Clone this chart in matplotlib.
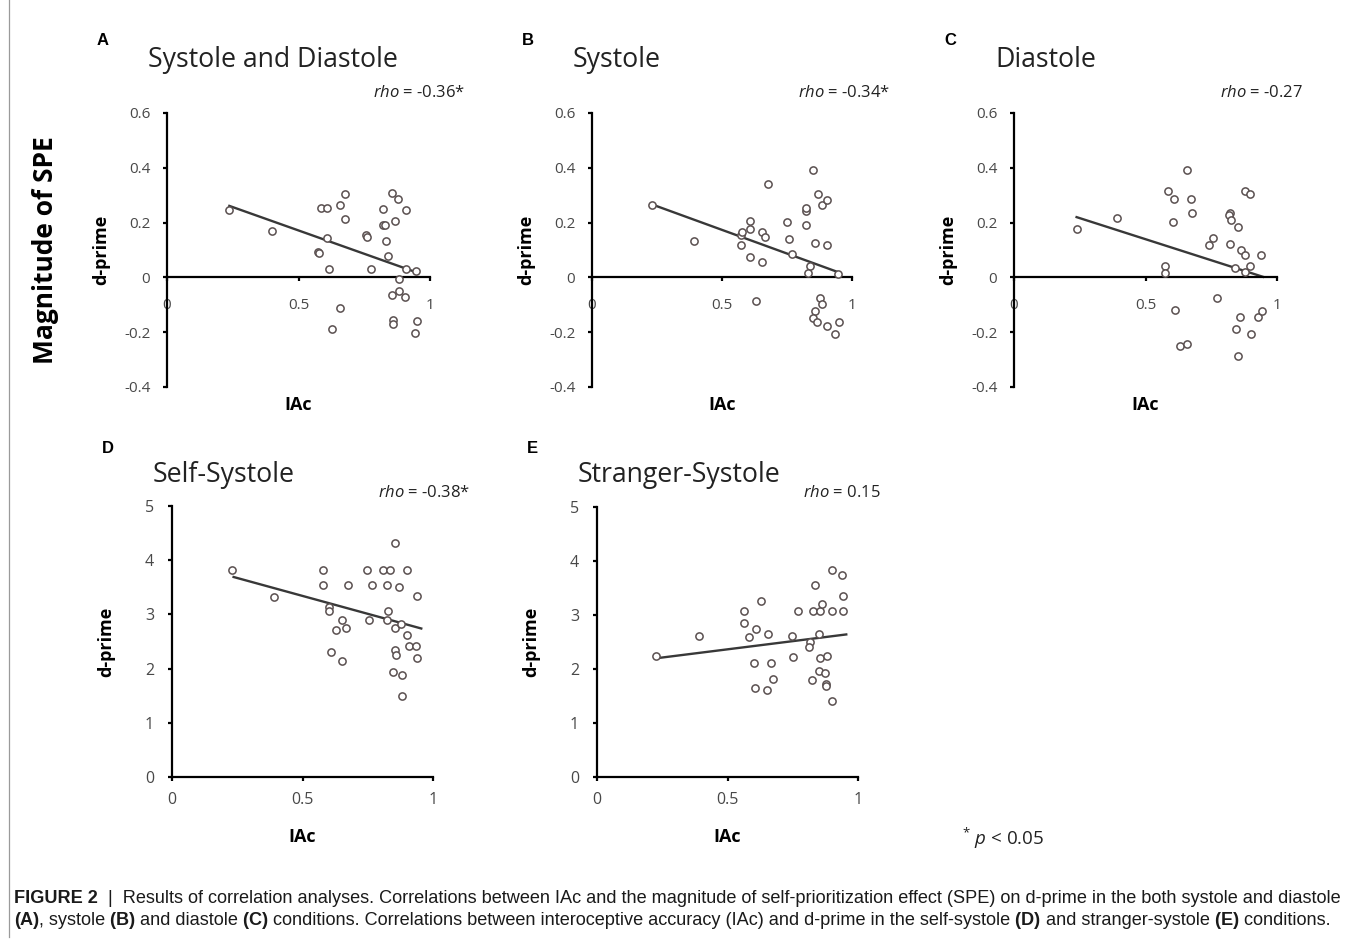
import matplotlib
matplotlib.use('Agg')
import matplotlib.pyplot as plt

W, H = 1355, 941
plt.rcParams['font.family'] = ['Open Sans', 'DejaVu Sans']
plt.rcParams['mathtext.fontset'] = 'custom'
plt.rcParams['mathtext.it'] = 'Open Sans:italic'
plt.rcParams['mathtext.rm'] = 'Open Sans'

# ---- data ----
titles = ['Systole and Diastole', 'Systole', 'Diastole', 'Self-Systole', 'Stranger-Systole']
letters = ['A', 'B', 'C', 'D', 'E']
rhos = ['-0.36*', '-0.34*', '-0.27', '-0.38*', '0.15']

a_x = [0.237, 0.399, 0.585, 0.610, 0.656, 0.677, 0.677, 0.610, 0.576, 0.578, 0.616, 0.757,
       0.762, 0.775, 0.820, 0.857, 0.880, 0.908, 0.867, 0.823, 0.830, 0.833, 0.842, 0.908,
       0.947, 0.881, 0.857, 0.881, 0.905, 0.656, 0.629, 0.860, 0.858, 0.949, 0.943]
a_y = [0.246, 0.170, 0.255, 0.255, 0.264, 0.303, 0.212, 0.145, 0.093, 0.090, 0.029, 0.154,
       0.148, 0.029, 0.251, 0.309, 0.285, 0.246, 0.206, 0.192, 0.192, 0.133, 0.079, 0.030,
       0.022, -0.006, -0.063, -0.048, -0.073, -0.112, -0.188, -0.155, -0.170, -0.160, -0.202]

b_x = [0.232, 0.391, 0.574, 0.578, 0.574, 0.609, 0.609, 0.609, 0.655, 0.667, 0.655, 0.677,
       0.632, 0.749, 0.758, 0.769, 0.822, 0.824, 0.824, 0.850, 0.869, 0.885, 0.905, 0.856,
       0.904, 0.840, 0.831, 0.946, 0.876, 0.886, 0.856, 0.850, 0.865, 0.905, 0.949, 0.935]
b_y = [0.265, 0.134, 0.156, 0.164, 0.119, 0.205, 0.177, 0.076, 0.164, 0.147, 0.055, 0.340,
       -0.086, 0.204, 0.140, 0.086, 0.242, 0.254, 0.193, 0.393, 0.305, 0.264, 0.281, 0.125,
       0.119, 0.043, 0.015, 0.012, -0.074, -0.096, -0.123, -0.147, -0.161, -0.178, -0.163, -0.206]

c_x = [0.238, 0.390, 0.587, 0.608, 0.605, 0.573, 0.573, 0.658, 0.672, 0.676, 0.614, 0.630,
       0.658, 0.742, 0.757, 0.773, 0.820, 0.818, 0.824, 0.823, 0.852, 0.865, 0.880, 0.839,
       0.899, 0.880, 0.877, 0.899, 0.941, 0.858, 0.843, 0.852, 0.903, 0.928, 0.944]
c_y = [0.178, 0.217, 0.315, 0.285, 0.202, 0.043, 0.015, 0.393, 0.285, 0.236, -0.120, -0.249,
       -0.243, 0.119, 0.144, -0.075, 0.236, 0.229, 0.211, 0.123, 0.183, 0.101, 0.080, 0.033,
       0.043, 0.018, 0.315, 0.303, 0.080, -0.145, -0.188, -0.286, -0.206, -0.145, -0.124]

d_x = [0.229, 0.389, 0.577, 0.580, 0.603, 0.601, 0.650, 0.627, 0.666, 0.608, 0.651, 0.673,
       0.748, 0.766, 0.754, 0.809, 0.834, 0.824, 0.868, 0.855, 0.899, 0.939, 0.828, 0.822,
       0.854, 0.878, 0.899, 0.908, 0.936, 0.854, 0.860, 0.940, 0.847, 0.880, 0.880]
d_y = [3.82, 3.33, 3.82, 3.54, 3.14, 3.06, 2.89, 2.71, 2.75, 2.30, 2.14, 3.54,
       3.82, 3.54, 2.89, 3.82, 3.82, 3.54, 3.51, 4.31, 3.82, 3.34, 3.07, 2.89,
       2.74, 2.82, 2.62, 2.42, 2.42, 2.35, 2.25, 2.20, 1.93, 1.88, 1.49]

e_x = [0.227, 0.389, 0.564, 0.563, 0.582, 0.609, 0.628, 0.654, 0.601, 0.665, 0.606, 0.652,
       0.673, 0.771, 0.748, 0.752, 0.818, 0.813, 0.834, 0.828, 0.854, 0.862, 0.851, 0.901,
       0.943, 0.943, 0.901, 0.938, 0.854, 0.882, 0.851, 0.873, 0.822, 0.876, 0.879, 0.902]
e_y = [2.25, 2.62, 3.07, 2.86, 2.59, 2.75, 3.26, 2.64, 2.11, 2.11, 1.64, 1.62,
       1.81, 3.07, 2.62, 2.23, 2.50, 2.41, 3.56, 3.07, 3.07, 3.21, 2.64, 3.07,
       3.07, 3.35, 3.83, 3.75, 2.20, 2.25, 1.96, 1.93, 1.79, 1.73, 1.68, 1.40]

# fitted regression lines (end points)
fit_x = [[0.237, 0.950], [0.232, 0.953], [0.238, 0.947], [0.236, 0.955], [0.229, 0.955]]
fit_y = [[0.261, 0.018], [0.266, 0.017], [0.220, 0.002], [3.69, 2.74], [2.20, 2.64]]

top_yticks = [-0.4, -0.2, 0, 0.2, 0.4, 0.6]
top_ylabels = ['-0.4', '-0.2', '0', '0.2', '0.4', '0.6']
bot_yticks = [0, 1, 2, 3, 4, 5]
xticks = [0, 0.5, 1]
xticklabels = ['0', '0.5', '1']

caption1 = [('FIGURE 2', True),
            ('  |  Results of correlation analyses. Correlations between IAc and the magnitude of '
             'self-prioritization effect (SPE) on d-prime in the both systole and diastole', False)]
caption2 = [('(A)', True), (', systole', False), (' (B)', True), (' and diastole', False),
            (' (C)', True),
            (' conditions. Correlations between interoceptive accuracy (IAc) and d-prime in the self-systole', False),
            (' (D)', True), (' and stranger-systole', False), (' (E)', True), (' conditions.', False)]

# ---- layout in pixels: left, right, top, bottom ----
boxes = [(167, 430, 113, 387), (592, 852, 113, 387), (1014, 1277, 113, 387),
         (172, 433, 506, 777), (597, 858, 507, 777)]
xs = [a_x, b_x, c_x, d_x, e_x]
ys = [a_y, b_y, c_y, d_y, e_y]

fig = plt.figure(figsize=(W / 100, H / 100), dpi=100)


def fx(x):
    return x / W


def fy(y):
    return 1 - y / H


for i in range(5):
    l, r, t, b = boxes[i]
    ax = fig.add_axes([fx(l), fy(b), (r - l) / W, (b - t) / H])
    top = i < 3
    ax.plot(fit_x[i], fit_y[i], color='#383838', lw=1.7, zorder=2)
    ax.plot(xs[i], ys[i], 'o', ms=5.2, mfc='white', mec='#5a5050', mew=1.1,
            zorder=3, clip_on=False)
    ax.set_xlim(0, 1)
    for s in ['top', 'right']:
        ax.spines[s].set_visible(False)
    for s in ['left', 'bottom']:
        ax.spines[s].set_linewidth(1.6)
    ax.set_xticks(xticks)
    ax.set_xticklabels(xticklabels)
    if top:
        ax.set_ylim(-0.4, 0.6)
        ax.spines['bottom'].set_position(('data', 0))
        ax.set_yticks(top_yticks)
        ax.set_yticklabels(top_ylabels)
        ax.tick_params(axis='x', pad=12, labelsize=11)
        ax.tick_params(axis='y', pad=9, labelsize=11)
        xl_y = 405
    else:
        ax.set_ylim(0, 5)
        ax.set_yticks(bot_yticks)
        ax.tick_params(axis='x', pad=8, labelsize=11.5)
        ax.tick_params(axis='y', pad=10, labelsize=11.5)
        xl_y = 837
    ax.set_ylabel('d-prime', fontsize=13, fontweight='bold')
    ax.yaxis.set_label_coords(-66 / (r - l), 0.5)
    ax.set_xlabel('IAc', fontsize=13, fontweight='bold')
    ax.xaxis.set_label_coords(0.5, -(xl_y - b) / (b - t))
    ax.xaxis.label.set_va('center')
    ax.yaxis.label.set_va('center')
    ax.tick_params(direction='out', length=3, width=1.6, color='black', labelcolor='#484848')
    ax.patch.set_visible(False)

    # title, panel letter and rho
    tb = 67 if top else 482
    fig.text(fx(l - 19), fy(tb), titles[i], fontsize=19.2, color='#222222', va='baseline')
    fig.text(fx(l - 70), fy(45 if top else 453), letters[i], fontsize=12, fontweight='bold',
             family=['Liberation Sans'], va='baseline')
    rb = 97 if top else 497
    fig.text(fx(l + 206), fy(rb), r'$\it{rho}$ = ' + rhos[i], fontsize=12, color='#222222',
             va='baseline')

# big side label
fig.text(fx(46), fy(250), 'Magnitude of SPE', rotation=90, fontsize=19, fontweight='bold',
         ha='center', va='center')

# significance note
fig.text(fx(962), fy(845), r'$^{*}$ $\it{p}$ < 0.05', fontsize=13.5, color='#222222', va='baseline')

# left frame line
fig.add_artist(plt.Line2D([fx(9), fx(9)], [fy(0), fy(937)], color='#9a9a9a', lw=0.9))

# caption with mixed bold / normal runs
renderer = fig.canvas.get_renderer()


def line_width(runs, size):
    w = 0
    for s, bold in runs:
        t = fig.text(0, 0, s, fontsize=size, family=['Liberation Sans'],
                     fontweight='bold' if bold else 'normal')
        w += t.get_window_extent(renderer=renderer).width
        t.remove()
    return w


cap_size = 11 * (1326 / line_width(caption1, 11))


def draw_runs(runs, x, y, size):
    for s, bold in runs:
        t = fig.text(fx(x), fy(y), s, fontsize=size, family=['Liberation Sans'],
                     fontweight='bold' if bold else 'normal', va='baseline', color='#1a1a1a')
        x += t.get_window_extent(renderer=renderer).width


draw_runs(caption1, 14, 903, cap_size)
draw_runs(caption2, 14, 925, cap_size)

fig.savefig('out.png', dpi=100)
